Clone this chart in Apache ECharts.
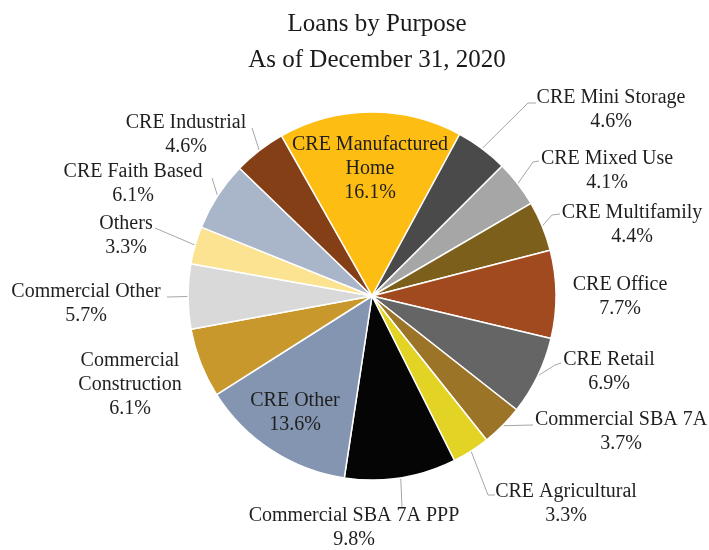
<!DOCTYPE html>
<html>
<head>
<meta charset="utf-8">
<script src="https://cdn.jsdelivr.net/npm/echarts@6/dist/echarts.min.js"></script>
<style>html,body{margin:0;padding:0;background:#fff}#c{width:709px;height:550px}</style>
</head>
<body>
<div id="c"></div>
<script>
// ---- data ----
const categories = ['CRE Manufactured Home','CRE Mini Storage','CRE Mixed Use','CRE Multifamily','CRE Office','CRE Retail','Commercial SBA 7A','CRE Agricultural','Commercial SBA 7A PPP','CRE Other','Commercial Construction','Commercial Other','Others','CRE Faith Based','CRE Industrial'];
const values = [16.1, 4.6, 4.1, 4.4, 7.7, 6.9, 3.7, 3.3, 9.8, 13.6, 6.1, 5.7, 3.3, 6.1, 4.6];
const labelNames = ['CRE Manufactured\nHome','CRE Mini Storage','CRE Mixed Use','CRE Multifamily','CRE Office','CRE Retail','Commercial SBA 7A','CRE Agricultural','Commercial SBA 7A PPP','CRE Other','Commercial\nConstruction','Commercial Other','Others','CRE Faith Based','CRE Industrial'];

// ---- styles / layout ----
const colors = ['#FDBD12','#4A4A4A','#A6A6A6','#7D5F1C','#A14A1F','#656565','#9C7428','#E2D324','#050505','#8395B0','#C8982C','#D9D9D9','#FCE391','#A9B5C9','#843F17'];
const noLine = [true,false,false,false,true,false,false,false,false,true,true,false,false,false,false];
const labelPos = [[370,169],[611,110],[607,171],[632,225],[620,297],[609,372],[621,432],[566,504],[354,528],[295,413],[130,385],[86,304],[126,236],[133,184],[186,135]];
const lineEnds = [null,[[528,103],[536,103]],[[533,162],[539,161]],[[552,215],[560,214]],null,[[555,365],[561,363]],[[533,425]],[[488,495],[495,495]],[[402,507]],null,null,[[167,297]],[[155,228]],[[212,178]],[[252,128]]];

const chart = echarts.init(document.getElementById('c'));
const data = categories.map((n, i) => ({
  name: n,
  value: values[i],
  itemStyle: { color: colors[i] },
  labelLine: { show: !noLine[i] }
}));

chart.setOption({
  animation: false,
  title: {
    text: 'Loans by Purpose\nAs of December 31, 2020',
    left: 372,
    top: 1,
    textAlign: 'center',
    textStyle: { fontFamily: 'Liberation Serif', fontSize: 25, fontWeight: 'normal', color: '#1a1a1a', lineHeight: 36 }
  },
  series: [{
    type: 'pie',
    center: [372, 296],
    radius: [0, 184],
    startAngle: 119.5,
    clockwise: true,
    avoidLabelOverlap: false,
    data: data,
    itemStyle: { borderColor: '#ffffff', borderWidth: 1.5 },
    label: {
      show: true,
      position: 'outside',
      fontFamily: 'Liberation Serif',
      fontSize: 20,
      lineHeight: 24,
      color: '#1f1f1f',
      align: 'center',
      formatter: p => labelNames[p.dataIndex] + '\n' + values[p.dataIndex].toFixed(1) + '%'
    },
    labelLine: { show: true, length: 15, length2: 10, lineStyle: { color: '#A6A6A6', width: 1 } },
    labelLayout: function (params) {
      const i = params.dataIndex;
      const res = { x: labelPos[i][0], y: labelPos[i][1], align: 'center', verticalAlign: 'middle' };
      if (lineEnds[i] && params.labelLinePoints) {
        res.labelLinePoints = [params.labelLinePoints[0]].concat(lineEnds[i]);
      }
      return res;
    }
  }]
});
</script>
</body>
</html>
